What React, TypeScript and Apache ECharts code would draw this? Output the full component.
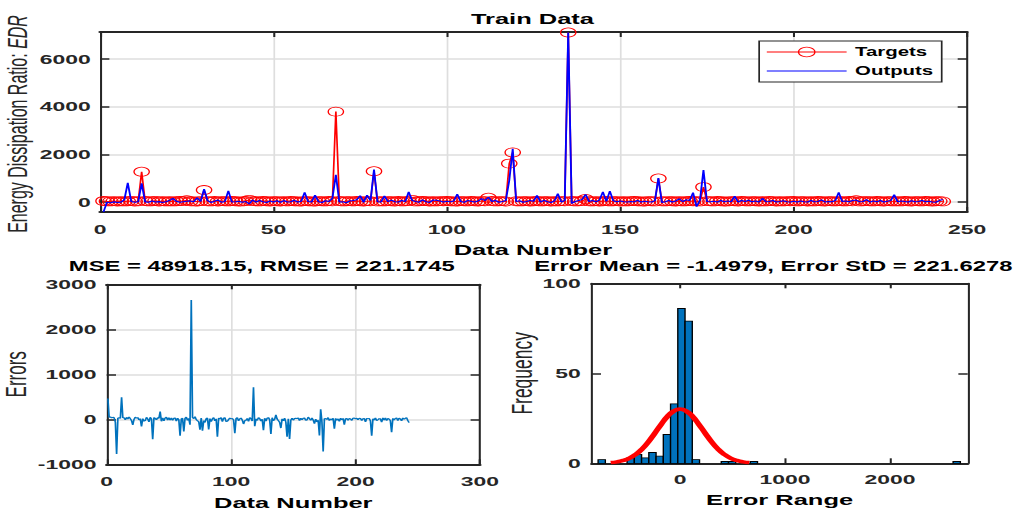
import React, { useEffect, useRef } from 'react';
import * as echarts from 'echarts';

// ---------- data ----------
const targets = [
  40, 30, 25, 35, 20, 30, 25, 30, 45, 20,
  30, 1270, 40, 25, 30, 45, 20, 35, 25, 30,
  25, 30, 40, 35, 70, 30, 25, 20, 35, 500,
  30, 25, 40, 20, 35, 30, 25, 40, 30, 20,
  25, 40, 90, 35, 30, 25, 40, 30, 20, 35,
  30, 20, 35, 25, 40, 30, 25, 20, 35, 30,
  25, 20, 35, 30, 25, 40, 30, 3790, 40, 25,
  30, 35, 25, 40, 30, 20, 35, 30, 1290, 25,
  30, 25, 35, 30, 20, 40, 25, 30, 35, 90,
  25, 30, 40, 35, 20, 30, 25, 35, 30, 40,
  30, 25, 20, 35, 30, 25, 40, 30, 20, 35,
  30, 180, 40, 25, 30, 35, 20, 1610, 2080, 30,
  25, 30, 35, 20, 30, 40, 25, 30, 35, 20,
  30, 25, 35, 30, 7110, 40, 25, 30, 35, 125,
  30, 25, 35, 20, 30, 40, 25, 30, 35, 20,
  30, 25, 35, 40, 30, 25, 20, 35, 30, 25,
  985, 30, 25, 35, 30, 20, 35, 25, 30, 40,
  30, 30, 25, 625, 35, 30, 25, 40, 30, 20,
  25, 35, 30, 20, 40, 30, 25, 35, 30, 20,
  30, 25, 40, 35, 20, 30, 25, 35, 30, 40,
  25, 30, 35, 20, 30, 25, 40, 30, 20, 35,
  30, 25, 35, 30, 25, 40, 30, 70, 25, 30,
  35, 30, 25, 40, 30, 20, 35, 30, 25, 30,
  25, 40, 30, 20, 35, 30, 25, 40, 30, 20,
  30, 35, 25,
];

const outputs = [
  -420, -10, -30, 5, -25, -5, 90, 800, 20, -15,
  10, 780, 5, -10, 40, 0, 15, -20, 10, 60,
  150, 30, -10, 10, 30, 45, 10, 180, 20, 540,
  60, -20, 30, 80, -10, 20, 470, 0, 10, 30,
  -10, 20, -80, 80, 0, 60, 10, -20, 40, 0,
  50, -10, 60, 0, 10, 70, 0, 30, 400, 20,
  0, 290, 10, -20, 50, 20, 150, 1140, 0, 10,
  -30, 40, 60, 90, 260, -10, 290, 60, 1360, 10,
  0, 250, 20, 80, 10, 0, 60, 20, 420, 60,
  20, -10, 90, 10, -20, 80, 70, 40, 0, 30,
  10, 40, 330, 20, -10, 60, 30, 0, 40, 140,
  60, 200, 20, 70, -10, 20, 60, 900, 2235, 20,
  50, -10, 20, 60, 30, 280, 0, 70, 10, -20,
  40, 350, 0, 60, 7110, -60, 20, 60, 100, 320,
  20, 60, 10, 80, 420, 30, 460, 50, 10, 40,
  10, 0, 20, 10, 60, 0, 30, 10, 0, 50,
  1000, -20, 10, 60, 0, 40, 130, 20, 90, 60,
  390, -195, 80, 1340, 20, 10, 30, 0, 60, 10,
  40, 10, 240, 0, 60, 20, 70, 10, 40, 0,
  150, 10, 20, 60, 0, 20, 50, 10, 0, 30,
  0, 40, 10, 0, 60, 10, 20, 90, 0, 20,
  10, 60, 400, 20, 40, 10, 60, 80, 10, 20,
  100, 0, 40, 10, 60, 0, 30, 60, 310, 10,
  40, 20, 0, 50, 10, 20, 60, 10, 30, 0,
  -10, 60, 100,
];

const histStart = -780;
const histWidth = 69;
const histCounts = [
  2, 0, 0, 0, 3, 5, 3, 6, 4, 16,
  33, 86, 79, 2, 0, 0, 0, 1, 1, 0,
  0, 1, 0, 0, 0, 0, 0, 0, 0, 0,
  0, 0, 0, 0, 0, 0, 0, 0, 0, 0,
  0, 0, 0, 0, 0, 0, 0, 0, 0, 1,
];

const fitX = [-660, -600, -540, -480, -420, -360, -300, -240, -180, -120, -60, 0, 60, 120, 180, 240, 300, 360, 420, 480, 540, 600, 660];
const fitY = [0.4, 0.8, 1.6, 2.9, 5.0, 8.0, 12.0, 16.7, 21.6, 26.0, 29.0, 30.1, 29.0, 26.0, 21.6, 16.7, 12.0, 8.0, 5.0, 2.9, 1.6, 0.8, 0.4];

const topYTicks = [0, 2000, 4000, 6000];
const histXTicks = [0, 1000, 2000];

const mainTitle = 'Train Data';
const xName = 'Data Number';
const errTitle = 'MSE = 48918.15, RMSE = 221.1745';
const histTitle = 'Error Mean = -1.4979, Error StD = 221.6278';

// ---------- styling ----------
const BASE_W = 600;
const SX = 1019 / BASE_W;
const FONT = '"Liberation Sans", Arial, Helvetica, sans-serif';
const AX = '#262626';
const GRID = '#dedede';
const LABEL = { fontFamily: FONT, fontWeight: 'bold', fontSize: 13.5, color: AX, formatter: (v: number) => String(v) };

function xAxes(grid: number, min: number, max: number, interval: number | undefined, ticks: number[] | undefined, split: boolean, margin: number) {
  const tick: any = { show: true, inside: true, length: 5, lineStyle: { color: AX, width: 1.2 } };
  const label: any = { ...LABEL, margin };
  if (ticks) { tick.customValues = ticks; label.customValues = ticks; }
  const common: any = { type: 'value', gridIndex: grid, min, max, axisLine: { show: true, onZero: false, lineStyle: { color: AX, width: 2 } } };
  if (interval !== undefined) common.interval = interval;
  return [
    { ...common, position: 'bottom', axisTick: tick, axisLabel: label, splitLine: { show: split, lineStyle: { color: GRID, width: 1 } } },
    { ...common, position: 'top', axisTick: tick, axisLabel: { show: false }, splitLine: { show: false } },
  ];
}

function yAxes(grid: number, min: number, max: number, interval: number | undefined, ticks: number[] | undefined, split: boolean, margin: number) {
  const tick: any = { show: true, inside: true, length: 5.5, lineStyle: { color: AX, width: 1.5 } };
  const label: any = { ...LABEL, margin };
  if (ticks) { tick.customValues = ticks; label.customValues = ticks; }
  const common: any = { type: 'value', gridIndex: grid, min, max, axisLine: { show: true, onZero: false, lineStyle: { color: AX, width: 1.2 } } };
  if (interval !== undefined) common.interval = interval;
  return [
    { ...common, position: 'left', axisTick: tick, axisLabel: label, splitLine: { show: split, lineStyle: { color: GRID, width: 1.5 } } },
    { ...common, position: 'right', axisTick: tick, axisLabel: { show: false }, splitLine: { show: false } },
  ];
}

function text(x: number, y: number, t: string, size: number, bold: boolean, rotate = false, extra: any = {}) {
  return {
    type: 'text', x, y, rotation: rotate ? Math.PI / 2 : 0, z: 10,
    style: {
      text: t, fill: rotate ? AX : '#000', fontFamily: FONT, fontSize: size, fontWeight: bold ? 'bold' : 'normal',
      align: 'center', verticalAlign: 'middle', textAlign: 'center', textVerticalAlign: 'middle', ...extra,
    },
  };
}

export default function App() {
  const ref = useRef<HTMLDivElement>(null);

  useEffect(() => {
    document.body.style.margin = '0';
    document.body.style.overflow = 'hidden';
    const chart = echarts.init(ref.current!, null, { renderer: 'svg' });

    const targetPts = targets.map((v, i) => [i + 1, v]);
    const outputPts = outputs.map((v, i) => [i + 1, v]);
    const errorPts = targets.map((t, i) => [i + 1, t - outputs[i]]);
    const histData = histCounts
      .map((c, k) => [histStart + k * histWidth, histStart + (k + 1) * histWidth, c])
      .filter((d) => d[2] > 0);
    const fitPts = fitX.map((x, i) => [x, fitY[i]]);

    const option: any = {
      animation: false,
      backgroundColor: '#ffffff',
      grid: [
        { left: 58.9, top: 32, width: 510.5, height: 180 },
        { left: 62.8, top: 284.3, width: 219.8, height: 180 },
        { left: 348.4, top: 283.3, width: 221.4, height: 180 },
      ],
      xAxis: [
        ...xAxes(0, 0, 250, 50, undefined, true, 10),
        ...xAxes(1, 0, 300, 100, undefined, true, 10),
        ...xAxes(2, -841, 2740, undefined, histXTicks, false, 9),
      ],
      yAxis: [
        ...yAxes(0, -420, 7130, undefined, topYTicks, true, 5.5),
        ...yAxes(1, -1000, 3000, 1000, undefined, true, 6),
        ...yAxes(2, 0, 100, 50, undefined, false, 6.5),
      ],
      legend: {
        show: true,
        data: [
          { name: 'Targets', lineStyle: { width: 1 }, itemStyle: { borderWidth: 0.8 } },
          { name: 'Outputs', icon: 'path://M0,0L100,0L100,2.4L0,2.4Z' },
        ],
        orient: 'vertical',
        left: 447,
        top: 41,
        itemWidth: 47,
        itemHeight: 12,
        itemGap: 7,
        padding: [5, 5, 5, 4],
        borderColor: AX,
        borderWidth: 1,
        backgroundColor: '#ffffff',
        selectedMode: false,
        lineStyle: { width: 1 },
        textStyle: { fontFamily: FONT, fontWeight: 'bold', fontSize: 12, color: '#000', lineHeight: 12 },
      },
      series: [
        {
          name: 'Targets', type: 'line', xAxisIndex: 0, yAxisIndex: 0, data: targetPts,
          color: '#ff0000', symbol: 'circle', symbolSize: 9, showSymbol: true, showAllSymbol: true,
          lineStyle: { color: '#ff0000', width: 1 },
          itemStyle: { color: 'rgba(255,255,255,0)', borderColor: '#ff0000', borderWidth: 0.8 },
          z: 2,
        },
        {
          name: 'Outputs', type: 'line', xAxisIndex: 0, yAxisIndex: 0, data: outputPts,
          color: '#0000ff', symbol: 'none', lineStyle: { color: '#0000ff', width: 1.1 }, z: 3,
        },
        {
          name: 'Errors', type: 'line', xAxisIndex: 2, yAxisIndex: 2, data: errorPts,
          color: '#0072BD', symbol: 'none', lineStyle: { color: '#0072BD', width: 1 },
        },
        {
          name: 'Histogram', type: 'custom', xAxisIndex: 4, yAxisIndex: 4, data: histData,
          encode: { x: [0, 1], y: 2 },
          renderItem: (_params: any, api: any) => {
            const p0 = api.coord([api.value(0), api.value(2)]);
            const p1 = api.coord([api.value(1), 0]);
            return {
              type: 'rect',
              shape: { x: p0[0], y: p0[1], width: p1[0] - p0[0], height: p1[1] - p0[1] },
              style: { fill: '#0072BD', stroke: '#000000', lineWidth: 0.8 },
            };
          },
          z: 2,
        },
        {
          name: 'Fit', type: 'line', xAxisIndex: 4, yAxisIndex: 4, data: fitPts, smooth: true,
          color: '#ff0000', symbol: 'none', lineStyle: { color: '#ff0000', width: 3.6 }, z: 3,
        },
      ],
      graphic: [
        text(313.5, 18.5, mainTitle, 15, true),
        text(313.8, 249.5, xName, 15, true),
        text(10.8, 124, 'Energy Dissipation Ratio: {i|EDR}', 16, false, true, {
          rich: { i: { fontStyle: 'italic', fontFamily: FONT, fontSize: 16, fill: AX } },
        }),
        text(154.1, 266, errTitle, 14, true),
        text(172.7, 503, xName, 15, true),
        text(9.4, 374.3, 'Errors', 17, false, true),
        text(455.3, 266, histTitle, 14, true),
        text(459, 500, 'Error Range', 15, true),
        text(307.4, 373.3, 'Frequency', 17.5, false, true),
      ],
    };

    chart.setOption(option);
    return () => chart.dispose();
  }, []);

  return (
    <div
      ref={ref}
      style={{
        position: 'absolute', left: 0, top: 0, width: BASE_W, height: 514,
        transform: `scaleX(${SX})`, transformOrigin: '0 0',
      }}
    />
  );
}
